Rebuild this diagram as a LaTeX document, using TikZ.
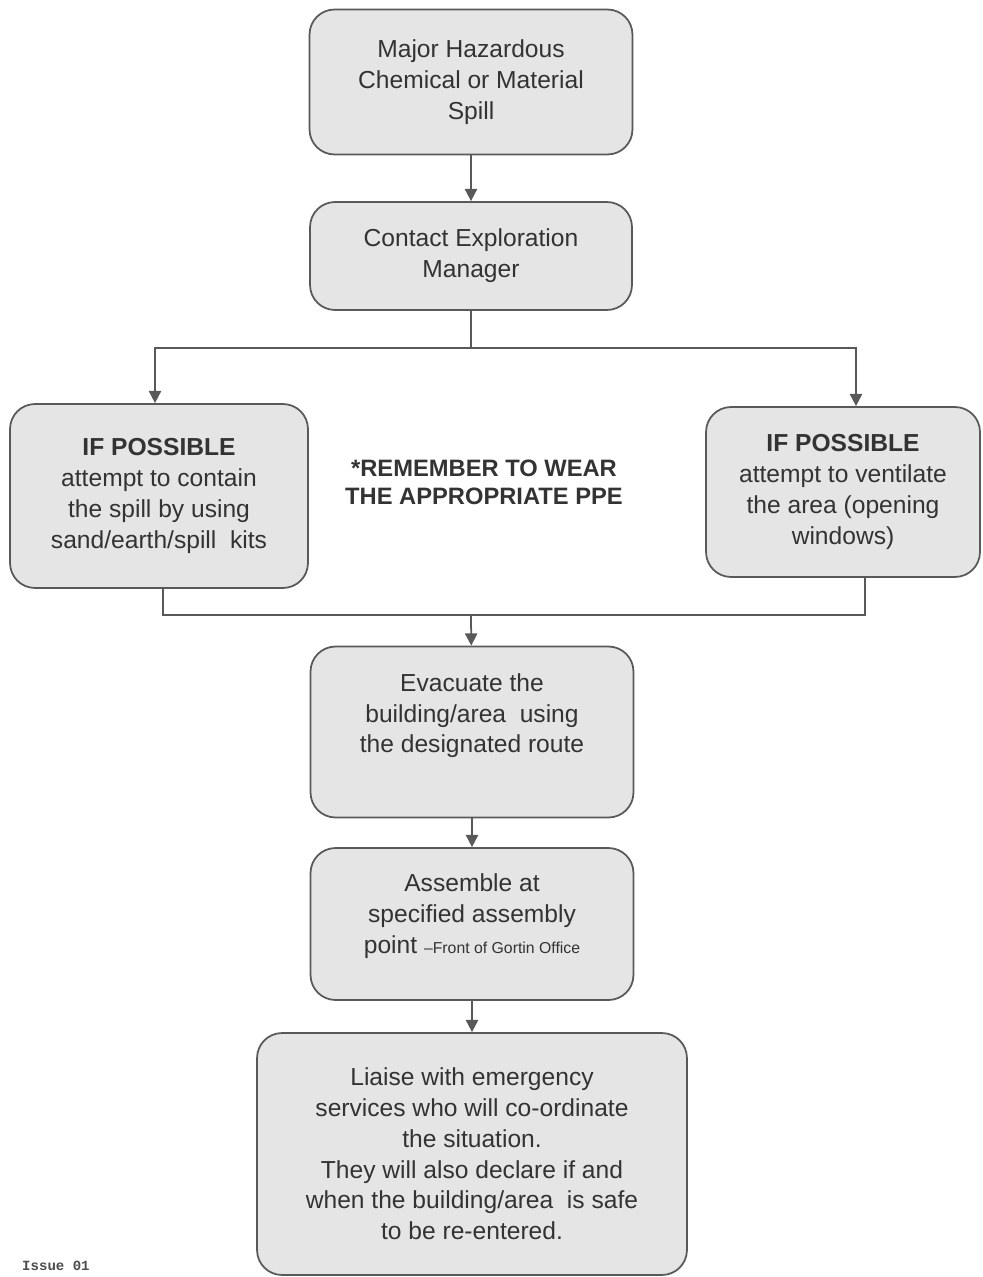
\documentclass[tikz,border=0pt]{standalone}
\usepackage{fontspec}
\setmainfont{Liberation Sans}
\setmonofont{Liberation Mono}
\usetikzlibrary{positioning, arrows, arrows.meta}

\begin{document}
\begin{tikzpicture}[x=0.02cm, y=-0.02cm, >={Triangle[length=7pt,width=7pt]},
    stepbox/.style={draw=black!65, fill=black!10, rounded corners=0.5cm, line width=1pt,
        align=center, inner sep=2pt, font=\fontsize{14}{17.5}\selectfont, text=black!80},
    flow/.style={draw=black!65, line width=1pt}]
    \useasboundingbox (0,0) rectangle (983,1277);

    \node[stepbox, minimum width=6.46cm, minimum height=2.9cm] (spill) at (471,82)
        {Major Hazardous\\Chemical or Material\\Spill};
    \node[stepbox, minimum width=6.44cm, minimum height=2.16cm] (contact) at (471,256)
        {Contact Exploration\\Manager};
    \node[stepbox, minimum width=5.96cm, minimum height=3.68cm] (contain) at (159,496)
        {\textbf{IF POSSIBLE}\\attempt to contain\\the spill by using\\sand/earth/spill\ \ kits};
    \node[stepbox, minimum width=5.48cm, minimum height=3.4cm] (ventilate) at (843,492)
        {\textbf{IF POSSIBLE}\\attempt to ventilate\\the area (opening\\windows)};
    \node[font=\bfseries\fontsize{13.5}{16}\selectfont, text=black!80, align=center] (ppe) at (484,482)
        {*REMEMBER TO WEAR\\THE APPROPRIATE PPE};
    \node[stepbox, minimum width=6.46cm, minimum height=3.42cm, text depth=0.75cm] (evacuate) at (472,732)
        {Evacuate the\\building/area\ \ using\\the designated route};
    \node[stepbox, minimum width=6.46cm, minimum height=3.04cm, text depth=0.42cm] (assemble) at (472,924)
        {Assemble at\\specified assembly\\point {\fontsize{9}{11}\selectfont --Front of Gortin Office}};
    \node[stepbox, minimum width=8.6cm, minimum height=4.84cm] (liaise) at (472,1154)
        {Liaise with emergency\\services who will co-ordinate\\the situation.\\They will also declare if and\\when the building/area\ \ is safe\\to be re-entered.};
    \node[anchor=west, font=\ttfamily\bfseries\fontsize{8}{9}\selectfont, text=black!70] (issue) at (16,1266) {Issue 01};

    \coordinate (split) at (471,348);
    \coordinate (merge) at (471,615);

    \path[flow, ->] (spill) -- (contact);
    \path[flow] (contact) -- (split);
    \path[flow, ->] (split) -| ([xshift=-0.08cm]contain.north);
    \path[flow, ->] (split) -| ([xshift=0.26cm]ventilate.north);
    \path[flow] ([xshift=0.08cm]contain.south) |- (merge);
    \path[flow] ([xshift=0.44cm]ventilate.south) |- (merge);
    \path[flow, ->] (merge) -- (evacuate);
    \path[flow, ->] (evacuate) -- (assemble);
    \path[flow, ->] (assemble) -- (liaise);
\end{tikzpicture}
\end{document}
